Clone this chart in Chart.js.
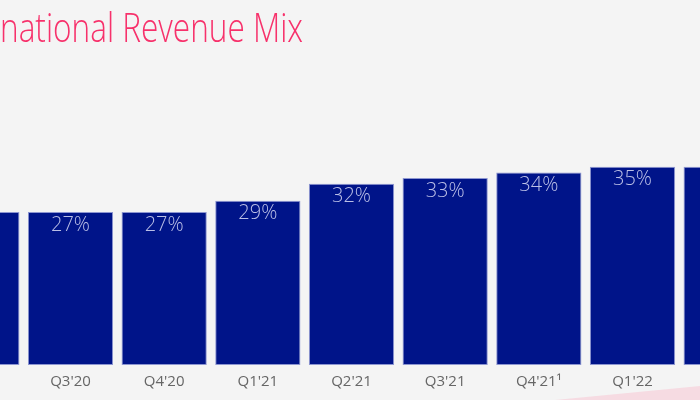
<!DOCTYPE html>
<html>
<head>
<meta charset="utf-8">
<script src="https://cdn.jsdelivr.net/npm/chart.js@4/dist/chart.umd.min.js"></script>
<style>
  html, body { margin: 0; padding: 0; background: #f4f4f4; overflow: hidden; }
  #wrap { position: absolute; left: -70px; top: 0; width: 843px; height: 400px; }
</style>
</head>
<body>
<div id="wrap"><canvas id="myChart" width="843" height="400"></canvas></div>
<script>
// quarters (first and last are only partly in the crop)
var quarters = ["Q2'20", "Q3'20", "Q4'20", "Q1'21", "Q2'21", "Q3'21", "Q4'21\u00b9", "Q1'22", "Q2'22"];
// international share of revenue, %
var intlShare = [27, 27, 27, 29, 32, 33, 34, 35, 35];
var titleText = "International Revenue Mix";
var hiddenPart = "Inter";

var shiftX = 70; // canvas sits 70px left of the window

// slide title, squeezed like the original slide
var titlePlugin = {
  id: 'slideTitle',
  beforeDraw: function(chart) {
    var ctx = chart.ctx;
    ctx.save();
    // faint pink wedge at bottom right of the slide
    ctx.fillStyle = '#f6dbe2';
    ctx.beginPath();
    ctx.moveTo(shiftX + 555, 400);
    ctx.lineTo(shiftX + 700, 386);
    ctx.lineTo(shiftX + 700, 400);
    ctx.closePath();
    ctx.fill();

    ctx.font = '300 40px "Open Sans"';
    ctx.fillStyle = '#f7316b';
    ctx.textBaseline = 'alphabetic';
    var wHidden = ctx.measureText(hiddenPart).width;
    var wShown = ctx.measureText(titleText.slice(hiddenPart.length)).width;
    var sx = 303 / wShown;
    ctx.translate(shiftX, 42);
    ctx.scale(sx, 1);
    ctx.fillText(titleText, -wHidden, 0);
    ctx.restore();
  }
};

// percent labels inside the top of each bar
var labelPlugin = {
  id: 'barLabels',
  afterDatasetsDraw: function(chart) {
    var ctx = chart.ctx;
    var meta = chart.getDatasetMeta(0);
    ctx.save();
    ctx.font = '300 20px "Open Sans"';
    ctx.fillStyle = '#babfe6';
    ctx.textAlign = 'center';
    ctx.textBaseline = 'middle';
    meta.data.forEach(function(bar, i) {
      ctx.fillText(intlShare[i] + '%', bar.x, bar.y + 13);
    });
    ctx.restore();
  }
};

var ctx = document.getElementById("myChart").getContext("2d");
var mychart = new Chart(ctx, {
  type: 'bar',
  data: {
    labels: quarters,
    datasets: [{
      data: intlShare,
      backgroundColor: '#001489',
      borderColor: 'rgba(130,140,205,0.9)',
      borderWidth: 1,
      borderSkipped: false,
      barPercentage: 0.91,
      categoryPercentage: 1
    }]
  },
  options: {
    responsive: false,
    animation: false,
    layout: { padding: { top: 60, bottom: 1, left: 0, right: 0 } },
    plugins: {
      legend: { display: false },
      tooltip: { enabled: false }
    },
    scales: {
      x: {
        grid: { display: false, drawTicks: false },
        border: { display: false },
        ticks: {
          color: '#666666',
          font: { family: '"Open Sans"', size: 15 },
          padding: 8,
          maxRotation: 0,
          autoSkip: false
        }
      },
      y: {
        display: false,
        min: 0,
        max: 53.85
      }
    }
  },
  plugins: [titlePlugin, labelPlugin]
});
</script>
</body>
</html>
